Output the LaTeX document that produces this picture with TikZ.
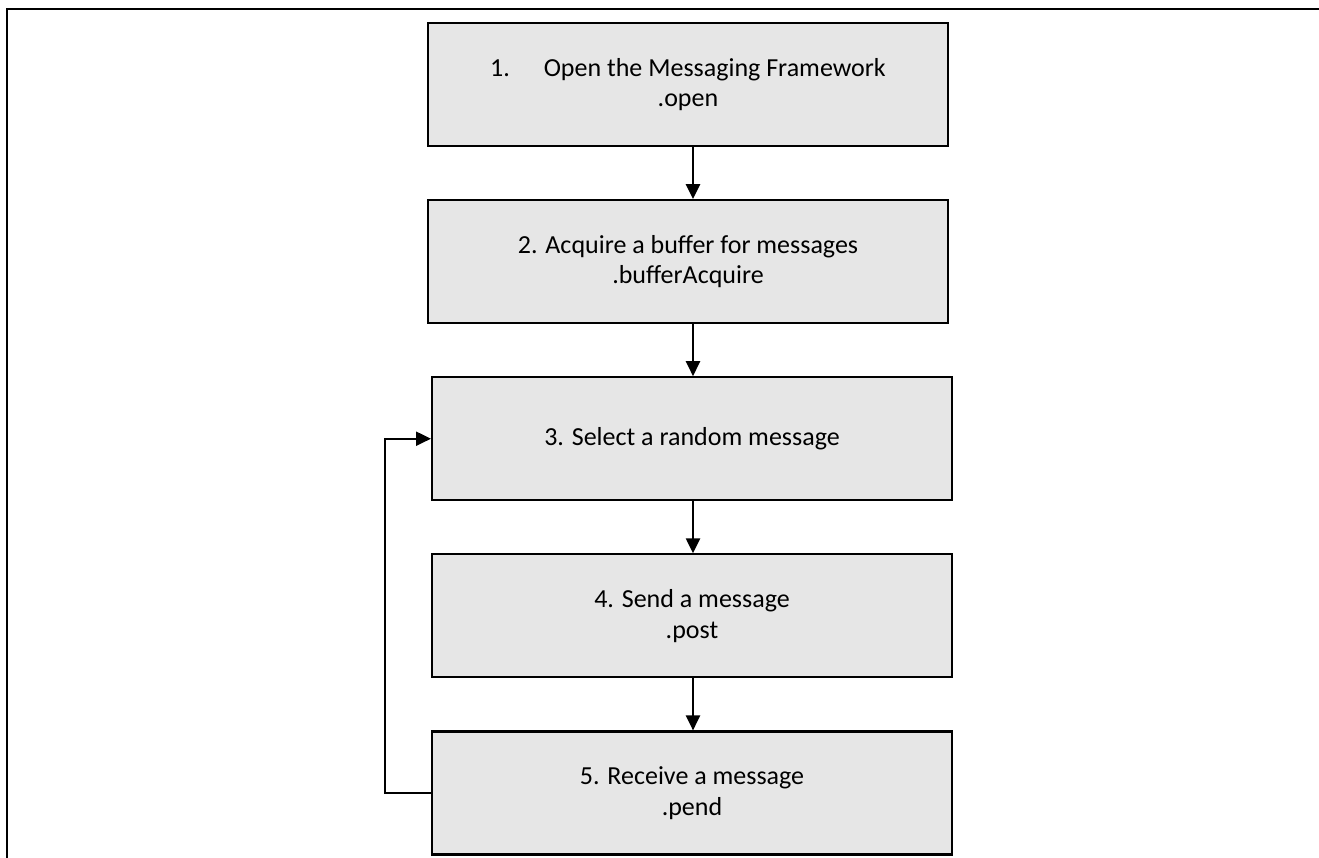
\documentclass[tikz,border=0pt]{standalone}
\usepackage{fontspec}
\setmainfont{Carlito}
\usetikzlibrary{positioning,arrows.meta}
\definecolor{boxgray}{RGB}{230,230,230}
\begin{document}
\begin{tikzpicture}

\tikzset{
    stepbox/.style={draw, line width=1.2pt, fill=boxgray, minimum width=10.4cm, minimum height=2.46cm,
        align=center, font=\fontsize{14.8}{17.5}\selectfont, inner sep=0pt},
    flow/.style={line width=1.2pt, -{Triangle[length=8.5pt,width=8pt]}}
}
\useasboundingbox (0,0) rectangle (26.38,-17.14);
\draw[line width=1.7pt] (0.14,-17.2) -- (0.14,-0.18) -- (26.45,-0.18);
\coordinate (spine) at (13.86,0);

\node[stepbox] (open) at (13.76,-1.69) {1.\hspace{1.3em}Open the Messaging Framework\\.open};
\node[stepbox, below=1.04cm of open] (acquire) {2. Acquire a buffer for messages\\.bufferAcquire};
\node[stepbox, below=1.04cm of acquire, xshift=0.08cm] (select) {3. Select a random message};
\node[stepbox, below=1.04cm of select] (send) {4. Send a message\\.post};
\node[stepbox, below=1.04cm of send] (receive) {5. Receive a message\\.pend};

\draw[flow] (open.south -| spine) -- (acquire.north -| spine);
\draw[flow] (acquire.south -| spine) -- (select.north -| spine);
\draw[flow] (select.south -| spine) -- (send.north -| spine);
\draw[flow] (send.south -| spine) -- (receive.north -| spine);
% loop back from receive to select
\draw[flow] (receive.west) -- ++(-0.92,0) |- (select.west);
\end{tikzpicture}
\end{document}
